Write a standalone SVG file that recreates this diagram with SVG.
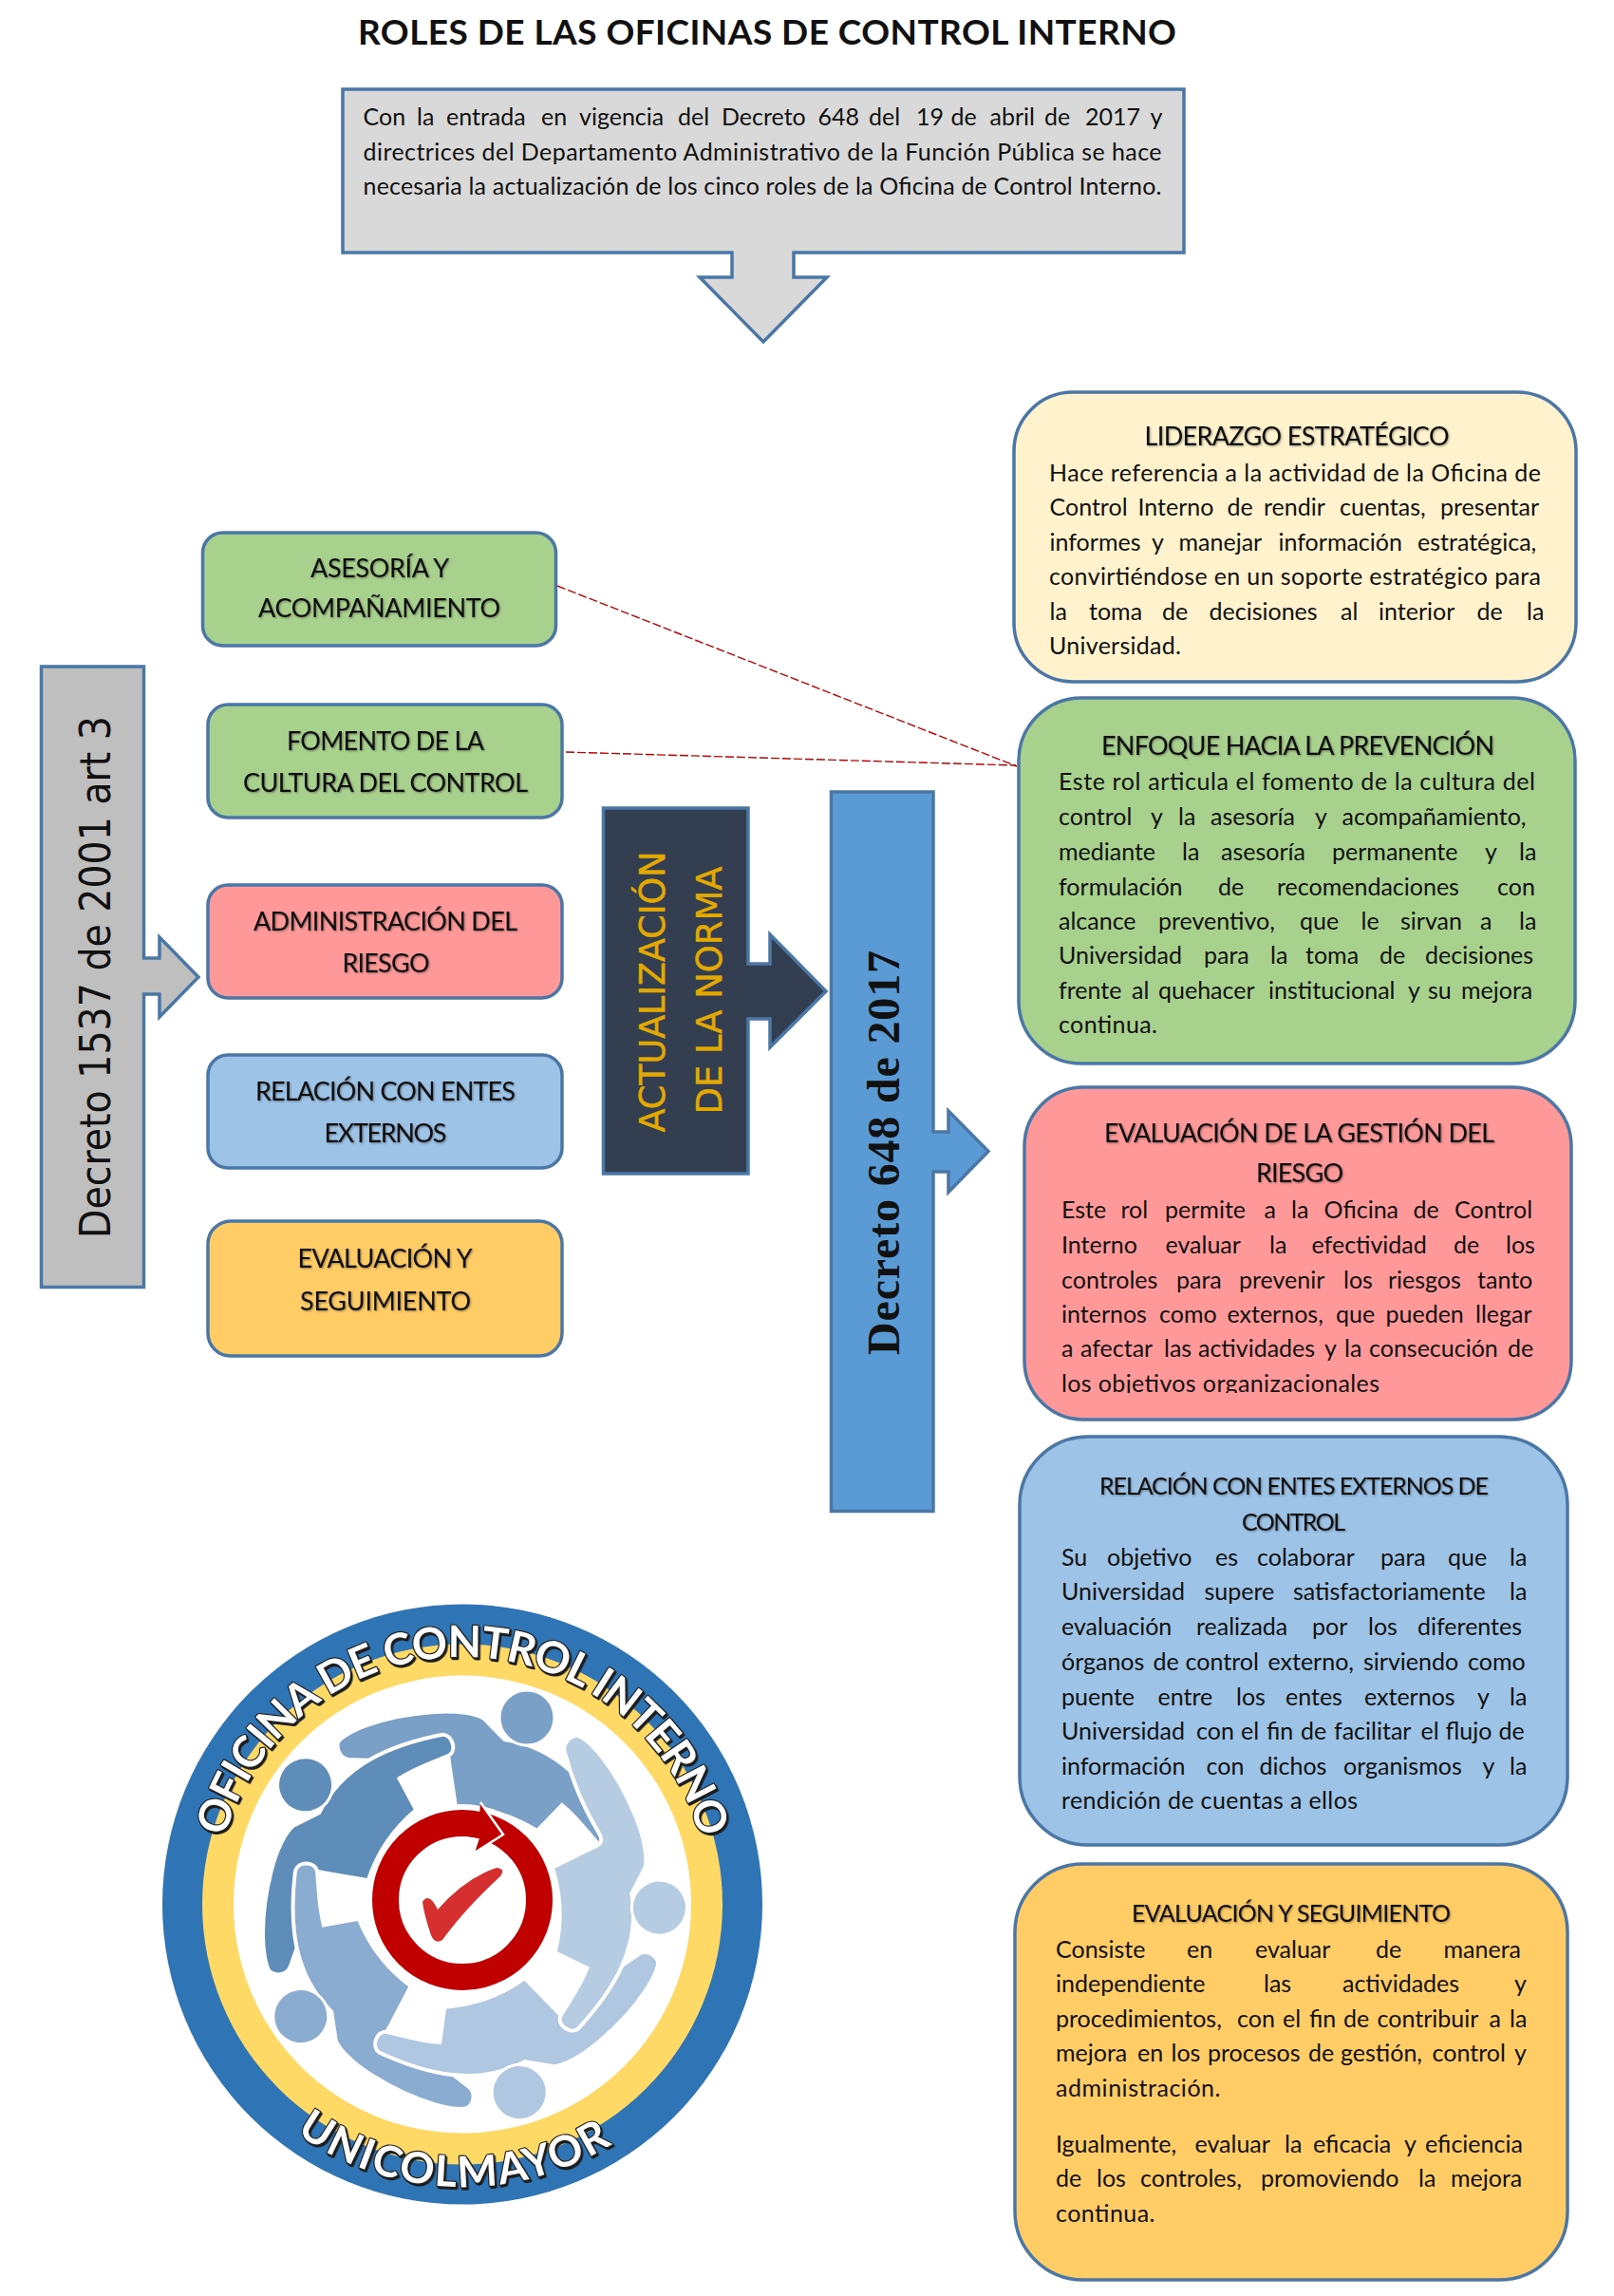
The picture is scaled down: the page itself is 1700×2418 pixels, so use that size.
<svg xmlns="http://www.w3.org/2000/svg" width="1700" height="2418" viewBox="0 0 1700 2418">
<style>
text{font-family:"Lato","Liberation Sans",sans-serif;fill:#111}
.b{font-size:25px}
.h{font-size:27px;filter:url(#soft)}
.s{stroke:#4a77a6;stroke-width:3.5}
.l{font-size:27px;filter:url(#soft)}
.dash{fill:none;stroke:#c00000;stroke-width:1.4;stroke-dasharray:9 3}
.ring{font-weight:bold;fill:#fff;stroke:#222;stroke-width:2.4;paint-order:stroke;stroke-linejoin:round;filter:url(#sh)}
.dj{font-family:"DejaVu Sans",sans-serif}
.gold{fill:#e3a900;stroke:#e3a900;stroke-width:.5}
</style>
<defs>
<filter id="soft" x="-5%" y="-20%" width="110%" height="140%"><feDropShadow dx="1" dy="1" stdDeviation="0.8" flood-color="#000" flood-opacity=".4"/></filter>
<filter id="sh" x="-10%" y="-10%" width="120%" height="120%"><feDropShadow dx="1.5" dy="2" stdDeviation="0.6" flood-color="#1a1a1a"/></filter>
<clipPath id="cut"><rect x="1100" y="1440" width="540" height="27"/></clipPath>
<path id="arcTop" d="M227,2005 A260,260 0 0 1 747,2005"/>
<path id="arcBot" d="M189,2005 A298,298 0 0 0 785,2005"/>
<g id="fig"><path d="M-131,-170 C-128,-178 -90,-198 -30,-202 C-5,-204 15,-200 23,-195 L44.6,-173 C100,-165 135,-125 163,-75 C166,-65 152,-55 144,-62 C130,-78 120,-92 105,-104 L79,-77 C50,-95 20,-102 -7,-102 L-14,-149 C-14,-158 -18,-162 -26,-160 C-60,-152 -90,-150 -120,-152 C-128,-153 -133,-162 -131,-170 Z" stroke="#fff" stroke-width="4"/><circle cx="68" cy="-196" r="29" stroke="#fff" stroke-width="3"/></g>
</defs>
<rect width="1700" height="2418" fill="#fff"/>
<g id="title"><text x="377" y="47" font-size="37" font-weight="bold" textLength="862">ROLES DE LAS OFICINAS DE CONTROL INTERNO</text></g>

<g id="intro">
<path class="s" fill="#d9d9d9" d="M361,94 H1247 V266 H836 V292 H871 L804,360 L737,292 H771 V266 H361 Z"/>
<text class="b" y="132"><tspan x="382.5">Con </tspan><tspan x="439">la </tspan><tspan x="470">entrada </tspan><tspan x="570">en </tspan><tspan x="610">vigencia </tspan><tspan x="714">del </tspan><tspan x="760">Decreto </tspan><tspan x="861.5">648 </tspan><tspan x="915">del </tspan><tspan x="965">19 </tspan><tspan x="1001.5">de </tspan><tspan x="1042.5">abril </tspan><tspan x="1100">de </tspan><tspan x="1143">2017 </tspan><tspan x="1211.5">y</tspan></text>
<text class="b" x="382.5" y="168.5" textLength="841">directrices del Departamento Administrativo de la Función Pública se hace</text>
<text class="b" x="382.5" y="204.5" textLength="841">necesaria la actualización de los cinco roles de la Oficina de Control Interno.</text>
</g>

<g id="connectors">
<line class="dash" x1="587" y1="617" x2="1071" y2="807"/>
<line class="dash" x1="596" y1="792" x2="1070" y2="806"/>
</g>

<g id="decreto1537">
<path class="s" fill="#bfbfbf" d="M43.5,702 H151.5 V1009 H168 V987 L209,1029 L168,1071 V1047 H151.5 V1355.5 H43.5 Z"/>
<text class="dj" transform="translate(116,1304) rotate(-90)" font-size="44" textLength="550" lengthAdjust="spacingAndGlyphs">Decreto 1537 de 2001 art 3</text>
</g>

<g id="n-asesoria"><rect class="s" x="213.5" y="561" width="372" height="119" rx="21" fill="#a9d18e"/>
<text class="l" x="327" y="608" textLength="146">ASESORÍA Y</text><text class="l" x="272" y="650" textLength="255">ACOMPAÑAMIENTO</text></g>
<g id="n-fomento"><rect class="s" x="219" y="742" width="373" height="119" rx="21" fill="#a9d18e"/>
<text class="l" x="302" y="790" textLength="208">FOMENTO DE LA</text><text class="l" x="256" y="834" textLength="300">CULTURA DEL CONTROL</text></g>
<g id="n-admin"><rect class="s" x="219" y="932" width="373" height="119" rx="21" fill="#ff9999"/>
<text class="l" x="267" y="980" textLength="278">ADMINISTRACIÓN DEL</text><text class="l" x="360.5" y="1024" textLength="92">RIESGO</text></g>
<g id="n-relacion"><rect class="s" x="219" y="1111" width="373" height="119" rx="21" fill="#9dc3e6"/>
<text class="l" x="269" y="1159" textLength="274">RELACIÓN CON ENTES</text><text class="l" x="341.5" y="1203" textLength="129">EXTERNOS</text></g>
<g id="n-evaluacion"><rect class="s" x="219" y="1286" width="373" height="142" rx="24" fill="#ffcc66"/>
<text class="l" x="313.5" y="1335" textLength="184">EVALUACIÓN Y</text><text class="l" x="316" y="1380" textLength="180">SEGUIMIENTO</text></g>

<g id="actualizacion">
<path class="s" fill="#333f50" d="M635.5,851 H788 V1015 H811 V984 L870,1044 L811,1103 V1073 H788 V1236 H635.5 Z"/>
<text class="dj gold" transform="translate(700,1192.5) rotate(-90)" font-size="38" textLength="296" lengthAdjust="spacingAndGlyphs">ACTUALIZACIÓN</text>
<text class="dj gold" transform="translate(760,1173.5) rotate(-90)" font-size="38" textLength="261" lengthAdjust="spacingAndGlyphs">DE LA NORMA</text>
</g>

<g id="decreto648">
<path class="s" fill="#5b9bd5" d="M875.5,834 H983 V1192 H999 V1170 L1041,1212.5 L999,1255.5 V1234 H983 V1591.5 H875.5 Z"/>
<text transform="translate(947,1427) rotate(-90)" font-size="48" font-weight="bold" textLength="426" style="font-family:'Liberation Serif',serif">Decreto 648 de 2017</text>
</g>

<g id="r-liderazgo"><rect class="s" x="1068" y="413" width="592" height="305" rx="62" fill="#fff2cc"/>
<text class="h" x="1205.5" y="469" textLength="321">LIDERAZGO ESTRATÉGICO</text>
<text class="b" x="1105" y="507" textLength="518">Hace referencia a la actividad de la Oficina de</text>
<text class="b" y="543"><tspan x="1105.5">Control </tspan><tspan x="1198.5">Interno </tspan><tspan x="1292.5">de </tspan><tspan x="1331">rendir </tspan><tspan x="1411">cuentas, </tspan><tspan x="1517">presentar</tspan></text>
<text class="b" y="580"><tspan x="1105.5">informes </tspan><tspan x="1213">y </tspan><tspan x="1241.5">manejar </tspan><tspan x="1346.5">información </tspan><tspan x="1493">estratégica,</tspan></text>
<text class="b" x="1105" y="616" textLength="518">convirtiéndose en un soporte estratégico para</text>
<text class="b" y="653"><tspan x="1105.5">la </tspan><tspan x="1147">toma </tspan><tspan x="1224">de </tspan><tspan x="1273.5">decisiones </tspan><tspan x="1412">al </tspan><tspan x="1452">interior </tspan><tspan x="1555.5">de </tspan><tspan x="1608">la</tspan></text>
<text class="b" x="1105" y="689" textLength="139">Universidad.</text></g>

<g id="r-enfoque"><rect class="s" x="1073" y="735" width="586" height="385" rx="66" fill="#a9d18e"/>
<text class="h" x="1160" y="795" textLength="414">ENFOQUE HACIA LA PREVENCIÓN</text>
<text class="b" x="1115" y="832" textLength="502">Este rol articula el fomento de la cultura del</text>
<text class="b" y="869"><tspan x="1115">control </tspan><tspan x="1212">y </tspan><tspan x="1241">la </tspan><tspan x="1275">asesoría </tspan><tspan x="1385">y </tspan><tspan x="1413.5">acompañamiento,</tspan></text>
<text class="b" y="906"><tspan x="1115">mediante </tspan><tspan x="1245">la </tspan><tspan x="1286">asesoría </tspan><tspan x="1403">permanente </tspan><tspan x="1564">y </tspan><tspan x="1600">la</tspan></text>
<text class="b" y="942.5"><tspan x="1115">formulación </tspan><tspan x="1283">de </tspan><tspan x="1345">recomendaciones </tspan><tspan x="1577">con</tspan></text>
<text class="b" y="979"><tspan x="1115">alcance </tspan><tspan x="1220">preventivo, </tspan><tspan x="1369">que </tspan><tspan x="1433.5">le </tspan><tspan x="1475">sirvan </tspan><tspan x="1559">a </tspan><tspan x="1600">la</tspan></text>
<text class="b" y="1015"><tspan x="1115">Universidad </tspan><tspan x="1268">para </tspan><tspan x="1338">la </tspan><tspan x="1375">toma </tspan><tspan x="1453">de </tspan><tspan x="1501">decisiones</tspan></text>
<text class="b" y="1052"><tspan x="1115">frente </tspan><tspan x="1192">al </tspan><tspan x="1220">quehacer </tspan><tspan x="1336">institucional </tspan><tspan x="1483">y </tspan><tspan x="1504">su </tspan><tspan x="1539">mejora</tspan></text>
<text class="b" x="1115" y="1088" textLength="104">continua.</text></g>

<g id="r-riesgo"><rect class="s" x="1079" y="1145" width="576" height="350" rx="62" fill="#ff9999"/>
<text class="h" x="1163" y="1203" textLength="411">EVALUACIÓN DE LA GESTIÓN DEL</text>
<text class="h" x="1323" y="1244.5" textLength="92">RIESGO</text>
<text class="b" y="1283"><tspan x="1118">Este </tspan><tspan x="1180.5">rol </tspan><tspan x="1227">permite </tspan><tspan x="1331.5">a </tspan><tspan x="1360">la </tspan><tspan x="1394.5">Oficina </tspan><tspan x="1488.5">de </tspan><tspan x="1532">Control</tspan></text>
<text class="b" y="1320"><tspan x="1118">Interno </tspan><tspan x="1227.5">evaluar </tspan><tspan x="1337">la </tspan><tspan x="1381.5">efectividad </tspan><tspan x="1531">de </tspan><tspan x="1586">los</tspan></text>
<text class="b" y="1356.5"><tspan x="1118">controles </tspan><tspan x="1239">para </tspan><tspan x="1305">prevenir </tspan><tspan x="1415">los </tspan><tspan x="1462">riesgos </tspan><tspan x="1556">tanto</tspan></text>
<text class="b" y="1393"><tspan x="1118">internos </tspan><tspan x="1221">como </tspan><tspan x="1292.5">externos, </tspan><tspan x="1407">que </tspan><tspan x="1459.5">pueden </tspan><tspan x="1554">llegar</tspan></text>
<text class="b" y="1429"><tspan x="1118">a </tspan><tspan x="1138">afectar </tspan><tspan x="1226">las </tspan><tspan x="1262">actividades </tspan><tspan x="1395">y </tspan><tspan x="1416">la </tspan><tspan x="1442">consecución </tspan><tspan x="1588">de</tspan></text>
<g clip-path="url(#cut)"><text class="b" x="1118" y="1466" textLength="335">los objetivos organizacionales</text></g></g>

<g id="r-relacion"><rect class="s" x="1074" y="1513" width="577" height="430" rx="72" fill="#9dc3e6"/>
<text class="h" x="1158" y="1574" textLength="410" style="font-size:25px">RELACIÓN CON ENTES EXTERNOS DE</text>
<text class="h" x="1308" y="1612" textLength="109" style="font-size:25px">CONTROL</text>
<text class="b" y="1648.5"><tspan x="1118">Su </tspan><tspan x="1166">objetivo </tspan><tspan x="1280">es </tspan><tspan x="1324">colaborar </tspan><tspan x="1454">para </tspan><tspan x="1525">que </tspan><tspan x="1590">la</tspan></text>
<text class="b" y="1685"><tspan x="1118">Universidad </tspan><tspan x="1268.5">supere </tspan><tspan x="1362">satisfactoriamente </tspan><tspan x="1590">la</tspan></text>
<text class="b" y="1722"><tspan x="1118">evaluación </tspan><tspan x="1260">realizada </tspan><tspan x="1382">por </tspan><tspan x="1441">los </tspan><tspan x="1493">diferentes</tspan></text>
<text class="b" y="1758.5"><tspan x="1118">órganos </tspan><tspan x="1214.5">de </tspan><tspan x="1248.5">control </tspan><tspan x="1335.5">externo, </tspan><tspan x="1436">sirviendo </tspan><tspan x="1546">como</tspan></text>
<text class="b" y="1795.5"><tspan x="1118">puente </tspan><tspan x="1219.5">entre </tspan><tspan x="1302">los </tspan><tspan x="1354">entes </tspan><tspan x="1437">externos </tspan><tspan x="1556">y </tspan><tspan x="1590">la</tspan></text>
<text class="b" y="1831.5"><tspan x="1118">Universidad </tspan><tspan x="1260">con </tspan><tspan x="1307">el </tspan><tspan x="1334">fin </tspan><tspan x="1370">de </tspan><tspan x="1405">facilitar </tspan><tspan x="1496.5">el </tspan><tspan x="1522.5">flujo </tspan><tspan x="1578.5">de</tspan></text>
<text class="b" y="1868.5"><tspan x="1118">información </tspan><tspan x="1270.5">con </tspan><tspan x="1326.5">dichos </tspan><tspan x="1415">organismos </tspan><tspan x="1561.5">y </tspan><tspan x="1590">la</tspan></text>
<text class="b" x="1118" y="1905" textLength="312">rendición de cuentas a ellos</text></g>

<g id="r-seguimiento"><rect class="s" x="1069" y="1963" width="582" height="438" rx="72" fill="#ffcc66"/>
<text class="h" x="1192" y="2024" textLength="336" style="font-size:25px">EVALUACIÓN Y SEGUIMIENTO</text>
<text class="b" y="2061.5"><tspan x="1112">Consiste </tspan><tspan x="1250">en </tspan><tspan x="1322">evaluar </tspan><tspan x="1449">de </tspan><tspan x="1520.5">manera</tspan></text>
<text class="b" y="2098"><tspan x="1112">independiente </tspan><tspan x="1331">las </tspan><tspan x="1414">actividades </tspan><tspan x="1595">y</tspan></text>
<text class="b" y="2134.5"><tspan x="1112">procedimientos, </tspan><tspan x="1303">con </tspan><tspan x="1351">el </tspan><tspan x="1379">fin </tspan><tspan x="1415">de </tspan><tspan x="1450.5">contribuir </tspan><tspan x="1568.5">a </tspan><tspan x="1590">la</tspan></text>
<text class="b" y="2171"><tspan x="1112">mejora </tspan><tspan x="1198">en </tspan><tspan x="1233.5">los </tspan><tspan x="1272">procesos </tspan><tspan x="1378">de </tspan><tspan x="1412">gestión, </tspan><tspan x="1508.5">control </tspan><tspan x="1595">y</tspan></text>
<text class="b" x="1112" y="2208" textLength="173.5">administración.</text>
<text class="b" y="2267"><tspan x="1112">Igualmente, </tspan><tspan x="1258.5">evaluar </tspan><tspan x="1353">la </tspan><tspan x="1383">eficacia </tspan><tspan x="1479">y </tspan><tspan x="1501">eficiencia</tspan></text>
<text class="b" y="2303"><tspan x="1112">de </tspan><tspan x="1155">los </tspan><tspan x="1201">controles, </tspan><tspan x="1328">promoviendo </tspan><tspan x="1494">la </tspan><tspan x="1528">mejora</tspan></text>
<text class="b" x="1112" y="2339.5" textLength="104.5">continua.</text></g>

<g id="logo">
<circle cx="487" cy="2005.5" r="316" fill="#2f75b5"/>
<circle cx="487" cy="2005.5" r="274" fill="#ffd966"/>
<circle cx="487" cy="2005.5" r="241" fill="#fff"/>
<g transform="translate(487,2005)">
<use href="#fig" fill="#7ba0c8"/>
<use href="#fig" fill="#5f8db9" transform="rotate(-72)"/>
<use href="#fig" fill="#8aacd0" transform="rotate(-144)"/>
<use href="#fig" fill="#afc7e1" transform="rotate(-216)"/>
<use href="#fig" fill="#b5cce3" transform="rotate(-288)"/>
</g>
<circle cx="487" cy="2001" r="101" fill="#fff"/>
<circle cx="487" cy="2001" r="81" fill="none" stroke="#c00000" stroke-width="28"/>
<path fill="#c00000" d="M506,1898 L530,1932 L500,1951 L505,1936 L470,1930 L480,1915 L505,1912 Z"/>
<polyline fill="none" stroke="#fff" stroke-width="2.5" points="506,1898 530,1932 500,1951"/>
<path fill="#d62f2f" d="M445,2003 Q452,1992 461,2011 Q490,1978 523,1967 Q533,1968 527,1976 Q490,2010 466,2043 Q458,2048 454,2038 Q447,2018 445,2003 Z"/>
<text class="ring" font-size="46" letter-spacing="-1.2"><textPath href="#arcTop" startOffset="50%" text-anchor="middle">OFICINA DE CONTROL INTERNO</textPath></text>
<text class="ring" font-size="45" letter-spacing="2"><textPath href="#arcBot" startOffset="49%" text-anchor="middle">UNICOLMAYOR</textPath></text>
</g>
</svg>
